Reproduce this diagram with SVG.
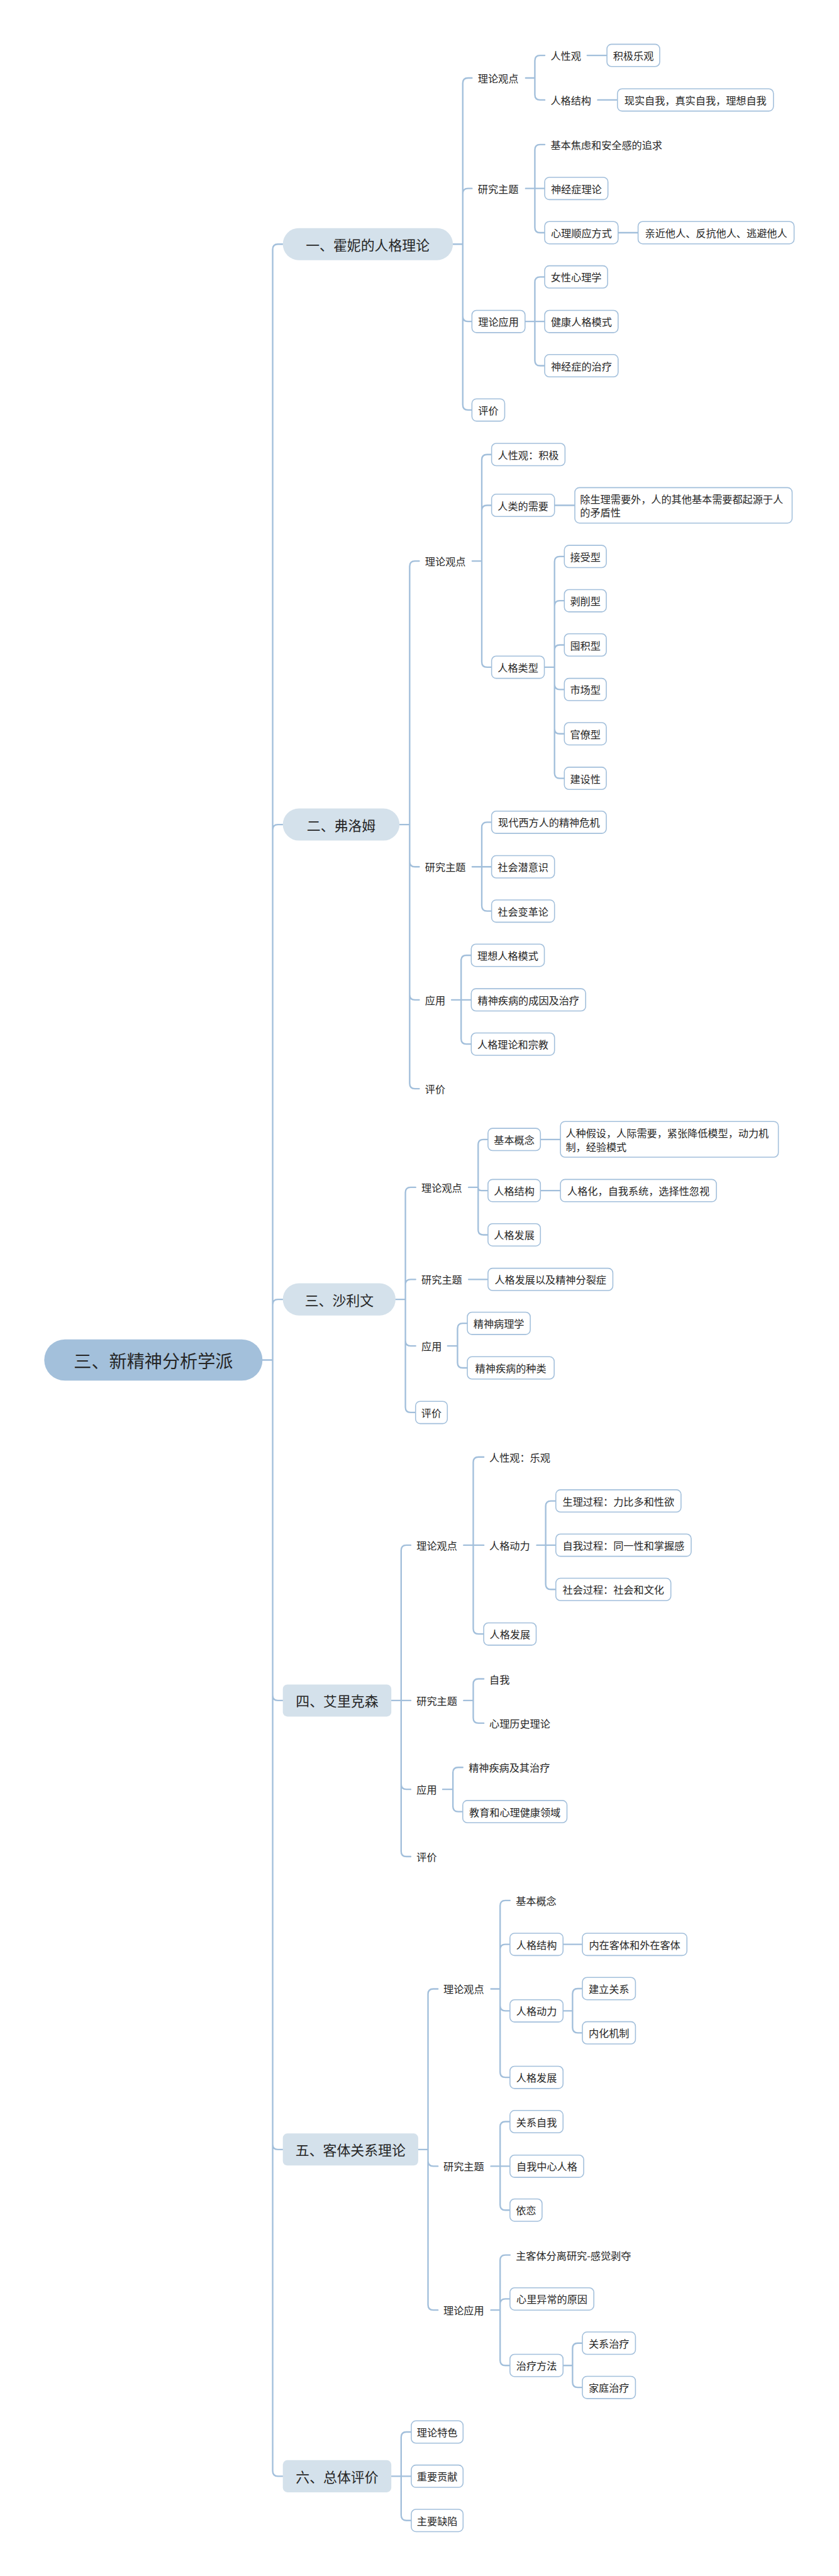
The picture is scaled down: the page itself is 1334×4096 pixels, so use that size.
<svg xmlns="http://www.w3.org/2000/svg" width="1334" height="4096" viewBox="0 0 1334 4096">
<style>
.c{fill:none;stroke:#a2bfdb;stroke-width:4.5;stroke-linecap:round;stroke-linejoin:round}
.b{fill:#fff;stroke:#a2bfdb;stroke-width:3}
.t{font-family:"Noto Sans CJK SC","Noto Sans",sans-serif;font-size:31px;fill:#262626;dominant-baseline:central}
.m{text-anchor:middle}
.l1{fill:#d4e1eb}
.l1t{font-size:42px}
.root{fill:#a3c0db}
.rt{font-size:54px}
</style>
<rect width="1334" height="4096" fill="#fff"/>
<g transform="scale(0.52109)">
<g id="connectors">
<path class="c" d="M801 4150H832V761Q832 745 848 745H863M801 4150H832V2532Q832 2516 848 2516H863M801 4150H832V3981Q832 3965 848 3965H863M801 4150H832V5173Q832 5189 848 5189H863M801 4150H832V6543Q832 6559 848 6559H863M801 4150H832V7540Q832 7556 848 7556H863"/>
<path class="c" d="M1382 745H1412V254Q1412 238 1428 238H1440M1382 745H1412V591Q1412 575 1428 575H1440M1382 745H1412V965Q1412 981 1428 981H1440M1382 745H1412V1235Q1412 1251 1428 1251H1440"/>
<path class="c" d="M1604 238H1632V185Q1632 169 1648 169H1662M1604 238H1632V289Q1632 305 1648 305H1662M1792 169H1852M1824 305H1884"/>
<path class="c" d="M1604 575H1632V457Q1632 441 1648 441H1662M1604 575H1662M1604 575H1632V694Q1632 710 1648 710H1662M1886 710H1947"/>
<path class="c" d="M1602 981H1632V861Q1632 845 1648 845H1662M1602 981H1662M1602 981H1632V1100Q1632 1116 1648 1116H1662"/>
<path class="c" d="M1219 2516H1250V1728Q1250 1712 1266 1712H1279M1219 2516H1250V2629Q1250 2645 1266 2645H1279M1219 2516H1250V3035Q1250 3051 1266 3051H1279M1219 2516H1250V3306Q1250 3322 1266 3322H1279"/>
<path class="c" d="M1441 1712H1470V1403Q1470 1387 1486 1387H1500M1441 1712H1470V1558Q1470 1542 1486 1542H1500M1441 1712H1470V2020Q1470 2036 1486 2036H1500M1692 1542H1754"/>
<path class="c" d="M1661 2036H1692V1714Q1692 1698 1708 1698H1722M1661 2036H1692V1849Q1692 1833 1708 1833H1722M1661 2036H1692V1984Q1692 1968 1708 1968H1722M1661 2036H1692V2088Q1692 2104 1708 2104H1722M1661 2036H1692V2223Q1692 2239 1708 2239H1722M1661 2036H1692V2359Q1692 2375 1708 2375H1722"/>
<path class="c" d="M1441 2645H1470V2525Q1470 2509 1486 2509H1500M1441 2645H1500M1441 2645H1470V2764Q1470 2780 1486 2780H1500"/>
<path class="c" d="M1378 3051H1407V2931Q1407 2915 1423 2915H1438M1378 3051H1438M1378 3051H1407V3170Q1407 3186 1423 3186H1438"/>
<path class="c" d="M1207 3965H1237V3639Q1237 3623 1253 3623H1268M1207 3965H1237V3920Q1237 3904 1253 3904H1268M1207 3965H1237V4091Q1237 4107 1253 4107H1268M1207 3965H1237V4294Q1237 4310 1253 4310H1268"/>
<path class="c" d="M1430 3623H1459V3493Q1459 3477 1475 3477H1489M1430 3623H1459Q1459 3633 1469 3633H1489M1430 3623H1459V3752Q1459 3768 1475 3768H1489M1649 3477H1710M1649 3633H1710M1430 3904H1489"/>
<path class="c" d="M1366 4107H1396V4054Q1396 4038 1412 4038H1426M1366 4107H1396V4158Q1396 4174 1412 4174H1426"/>
<path class="c" d="M1194 5189H1224V4731Q1224 4715 1240 4715H1253M1194 5189H1253M1194 5189H1224V5444Q1224 5460 1240 5460H1253M1194 5189H1224V5649Q1224 5665 1240 5665H1253"/>
<path class="c" d="M1415 4715H1444V4462Q1444 4446 1460 4446H1476M1415 4715H1476M1415 4715H1444V4970Q1444 4986 1460 4986H1476"/>
<path class="c" d="M1638 4715H1665V4596Q1665 4580 1681 4580H1696M1638 4715H1696M1638 4715H1665V4834Q1665 4850 1681 4850H1696"/>
<path class="c" d="M1415 5189H1444V5139Q1444 5123 1460 5123H1476M1415 5189H1444V5242Q1444 5258 1460 5258H1476"/>
<path class="c" d="M1351 5460H1382V5409Q1382 5393 1398 5393H1412M1351 5460H1382V5512Q1382 5528 1398 5528H1412"/>
<path class="c" d="M1276 6559H1306V6085Q1306 6069 1322 6069H1336M1276 6559H1306V6594Q1306 6610 1322 6610H1336M1276 6559H1306V7033Q1306 7049 1322 7049H1336"/>
<path class="c" d="M1498 6069H1526V5815Q1526 5799 1542 5799H1556M1498 6069H1526V5949Q1526 5933 1542 5933H1556M1498 6069H1526V6120Q1526 6136 1542 6136H1556M1498 6069H1526V6323Q1526 6339 1542 6339H1556M1718 5933H1777"/>
<path class="c" d="M1718 6136H1747V6084Q1747 6068 1763 6068H1777M1718 6136H1747V6187Q1747 6203 1763 6203H1777"/>
<path class="c" d="M1498 6610H1526V6490Q1526 6474 1542 6474H1556M1498 6610H1556M1498 6610H1526V6728Q1526 6744 1542 6744H1556"/>
<path class="c" d="M1498 7049H1526V6897Q1526 6881 1542 6881H1556M1498 7049H1526V7031Q1526 7015 1542 7015H1556M1498 7049H1526V7202Q1526 7218 1542 7218H1556"/>
<path class="c" d="M1718 7218H1747V7166Q1747 7150 1763 7150H1777M1718 7218H1747V7269Q1747 7285 1763 7285H1777"/>
<path class="c" d="M1194 7556H1224V7437Q1224 7421 1240 7421H1255M1194 7556H1255M1194 7556H1224V7675Q1224 7691 1240 7691H1255"/>
</g>
<g id="root"><rect class="root" x="135" y="4087" width="666" height="126" rx="63"/><text class="t m rt" x="468" y="4150">三、新精神分析学派</text></g>
<g id="n1"><rect class="l1" x="863" y="696" width="519" height="98" rx="49"/><text class="t m l1t" x="1122" y="745">一、霍妮的人格理论</text></g>
<g id="n1-1"><text class="t" x="1458" y="238">理论观点</text></g>
<g id="n1-1-1"><text class="t" x="1680" y="169">人性观</text></g>
<g id="n1-1-1-1"><rect class="b" x="1852" y="135" width="161" height="68" rx="14"/><text class="t m" x="1932.5" y="169">积极乐观</text></g>
<g id="n1-1-2"><text class="t" x="1680" y="305">人格结构</text></g>
<g id="n1-1-2-1"><rect class="b" x="1884" y="271" width="476" height="68" rx="14"/><text class="t m" x="2122" y="305">现实自我，真实自我，理想自我</text></g>
<g id="n1-2"><text class="t" x="1458" y="575">研究主题</text></g>
<g id="n1-2-1"><text class="t" x="1680" y="441">基本焦虑和安全感的追求</text></g>
<g id="n1-2-2"><rect class="b" x="1662" y="541" width="193" height="68" rx="14"/><text class="t m" x="1758.5" y="575">神经症理论</text></g>
<g id="n1-2-3"><rect class="b" x="1662" y="676" width="224" height="68" rx="14"/><text class="t m" x="1774" y="710">心理顺应方式</text></g>
<g id="n1-2-3-1"><rect class="b" x="1947" y="676" width="476" height="68" rx="14"/><text class="t m" x="2185" y="710">亲近他人、反抗他人、逃避他人</text></g>
<g id="n1-3"><rect class="b" x="1440" y="947" width="162" height="68" rx="14"/><text class="t m" x="1521" y="981">理论应用</text></g>
<g id="n1-3-1"><rect class="b" x="1662" y="811" width="192" height="68" rx="14"/><text class="t m" x="1758" y="845">女性心理学</text></g>
<g id="n1-3-2"><rect class="b" x="1662" y="947" width="224" height="68" rx="14"/><text class="t m" x="1774" y="981">健康人格模式</text></g>
<g id="n1-3-3"><rect class="b" x="1662" y="1082" width="224" height="68" rx="14"/><text class="t m" x="1774" y="1116">神经症的治疗</text></g>
<g id="n1-4"><rect class="b" x="1440" y="1217" width="100" height="68" rx="14"/><text class="t m" x="1490" y="1251">评价</text></g>
<g id="n2"><rect class="l1" x="863" y="2467" width="356" height="98" rx="49"/><text class="t m l1t" x="1041" y="2516">二、弗洛姆</text></g>
<g id="n2-1"><text class="t" x="1297" y="1712">理论观点</text></g>
<g id="n2-1-1"><rect class="b" x="1500" y="1353" width="224" height="68" rx="14"/><text class="t m" x="1612" y="1387">人性观：积极</text></g>
<g id="n2-1-2"><rect class="b" x="1500" y="1508" width="192" height="68" rx="14"/><text class="t m" x="1596" y="1542">人类的需要</text></g>
<g id="n2-1-2-1"><rect class="b" x="1754" y="1488" width="663" height="108" rx="14"/><text class="t" x="1770" y="1521">除生理需要外，人的其他基本需要都起源于人</text><text class="t" x="1770" y="1563">的矛盾性</text></g>
<g id="n2-1-3"><rect class="b" x="1500" y="2002" width="161" height="68" rx="14"/><text class="t m" x="1580.5" y="2036">人格类型</text></g>
<g id="n2-1-3-1"><rect class="b" x="1722" y="1664" width="128" height="68" rx="14"/><text class="t m" x="1786" y="1698">接受型</text></g>
<g id="n2-1-3-2"><rect class="b" x="1722" y="1799" width="128" height="68" rx="14"/><text class="t m" x="1786" y="1833">剥削型</text></g>
<g id="n2-1-3-3"><rect class="b" x="1722" y="1934" width="128" height="68" rx="14"/><text class="t m" x="1786" y="1968">囤积型</text></g>
<g id="n2-1-3-4"><rect class="b" x="1722" y="2070" width="128" height="68" rx="14"/><text class="t m" x="1786" y="2104">市场型</text></g>
<g id="n2-1-3-5"><rect class="b" x="1722" y="2205" width="128" height="68" rx="14"/><text class="t m" x="1786" y="2239">官僚型</text></g>
<g id="n2-1-3-6"><rect class="b" x="1722" y="2341" width="128" height="68" rx="14"/><text class="t m" x="1786" y="2375">建设性</text></g>
<g id="n2-2"><text class="t" x="1297" y="2645">研究主题</text></g>
<g id="n2-2-1"><rect class="b" x="1500" y="2475" width="350" height="68" rx="14"/><text class="t m" x="1675" y="2509">现代西方人的精神危机</text></g>
<g id="n2-2-2"><rect class="b" x="1500" y="2611" width="192" height="68" rx="14"/><text class="t m" x="1596" y="2645">社会潜意识</text></g>
<g id="n2-2-3"><rect class="b" x="1500" y="2746" width="192" height="68" rx="14"/><text class="t m" x="1596" y="2780">社会变革论</text></g>
<g id="n2-3"><text class="t" x="1297" y="3051">应用</text></g>
<g id="n2-3-1"><rect class="b" x="1438" y="2881" width="223" height="68" rx="14"/><text class="t m" x="1549.5" y="2915">理想人格模式</text></g>
<g id="n2-3-2"><rect class="b" x="1438" y="3017" width="349" height="68" rx="14"/><text class="t m" x="1612.5" y="3051">精神疾病的成因及治疗</text></g>
<g id="n2-3-3"><rect class="b" x="1438" y="3152" width="254" height="68" rx="14"/><text class="t m" x="1565" y="3186">人格理论和宗教</text></g>
<g id="n2-4"><text class="t" x="1297" y="3322">评价</text></g>
<g id="n3"><rect class="l1" x="863" y="3916" width="344" height="98" rx="49"/><text class="t m l1t" x="1035" y="3965">三、沙利文</text></g>
<g id="n3-1"><text class="t" x="1286" y="3623">理论观点</text></g>
<g id="n3-1-1"><rect class="b" x="1489" y="3443" width="160" height="68" rx="14"/><text class="t m" x="1569" y="3477">基本概念</text></g>
<g id="n3-1-1-1"><rect class="b" x="1710" y="3422" width="665" height="109" rx="14"/><text class="t" x="1726" y="3456">人种假设，人际需要，紧张降低模型，动力机</text><text class="t" x="1726" y="3498">制，经验模式</text></g>
<g id="n3-1-2"><rect class="b" x="1489" y="3599" width="160" height="68" rx="14"/><text class="t m" x="1569" y="3633">人格结构</text></g>
<g id="n3-1-2-1"><rect class="b" x="1710" y="3599" width="476" height="68" rx="14"/><text class="t m" x="1948" y="3633">人格化，自我系统，选择性忽视</text></g>
<g id="n3-1-3"><rect class="b" x="1489" y="3734" width="160" height="68" rx="14"/><text class="t m" x="1569" y="3768">人格发展</text></g>
<g id="n3-2"><text class="t" x="1286" y="3904">研究主题</text></g>
<g id="n3-2-1"><rect class="b" x="1489" y="3870" width="381" height="68" rx="14"/><text class="t m" x="1679.5" y="3904">人格发展以及精神分裂症</text></g>
<g id="n3-3"><text class="t" x="1286" y="4107">应用</text></g>
<g id="n3-3-1"><rect class="b" x="1426" y="4004" width="192" height="68" rx="14"/><text class="t m" x="1522" y="4038">精神病理学</text></g>
<g id="n3-3-2"><rect class="b" x="1426" y="4140" width="265" height="68" rx="14"/><text class="t m" x="1558.5" y="4174">精神疾病的种类</text></g>
<g id="n3-4"><rect class="b" x="1268" y="4276" width="97" height="68" rx="14"/><text class="t m" x="1316.5" y="4310">评价</text></g>
<g id="n4"><rect class="l1" x="863" y="5140" width="331" height="98" rx="14"/><text class="t m l1t" x="1028.5" y="5189">四、艾里克森</text></g>
<g id="n4-1"><text class="t" x="1271" y="4715">理论观点</text></g>
<g id="n4-1-1"><text class="t" x="1493" y="4446">人性观：乐观</text></g>
<g id="n4-1-2"><text class="t" x="1493" y="4715">人格动力</text></g>
<g id="n4-1-2-1"><rect class="b" x="1696" y="4546" width="382" height="68" rx="14"/><text class="t m" x="1887" y="4580">生理过程：力比多和性欲</text></g>
<g id="n4-1-2-2"><rect class="b" x="1696" y="4681" width="413" height="68" rx="14"/><text class="t m" x="1902.5" y="4715">自我过程：同一性和掌握感</text></g>
<g id="n4-1-2-3"><rect class="b" x="1696" y="4816" width="351" height="68" rx="14"/><text class="t m" x="1871.5" y="4850">社会过程：社会和文化</text></g>
<g id="n4-1-3"><rect class="b" x="1476" y="4952" width="160" height="68" rx="14"/><text class="t m" x="1556" y="4986">人格发展</text></g>
<g id="n4-2"><text class="t" x="1271" y="5189">研究主题</text></g>
<g id="n4-2-1"><text class="t" x="1493" y="5123">自我</text></g>
<g id="n4-2-2"><text class="t" x="1493" y="5258">心理历史理论</text></g>
<g id="n4-3"><text class="t" x="1271" y="5460">应用</text></g>
<g id="n4-3-1"><text class="t" x="1430" y="5393">精神疾病及其治疗</text></g>
<g id="n4-3-2"><rect class="b" x="1412" y="5494" width="318" height="68" rx="14"/><text class="t m" x="1571" y="5528">教育和心理健康领域</text></g>
<g id="n4-4"><text class="t" x="1271" y="5665">评价</text></g>
<g id="n5"><rect class="l1" x="863" y="6510" width="413" height="98" rx="14"/><text class="t m l1t" x="1069.5" y="6559">五、客体关系理论</text></g>
<g id="n5-1"><text class="t" x="1353" y="6069">理论观点</text></g>
<g id="n5-1-1"><text class="t" x="1574" y="5799">基本概念</text></g>
<g id="n5-1-2"><rect class="b" x="1556" y="5899" width="162" height="68" rx="14"/><text class="t m" x="1637" y="5933">人格结构</text></g>
<g id="n5-1-2-1"><rect class="b" x="1777" y="5899" width="319" height="68" rx="14"/><text class="t m" x="1936.5" y="5933">内在客体和外在客体</text></g>
<g id="n5-1-3"><rect class="b" x="1556" y="6102" width="162" height="68" rx="14"/><text class="t m" x="1637" y="6136">人格动力</text></g>
<g id="n5-1-3-1"><rect class="b" x="1777" y="6034" width="162" height="68" rx="14"/><text class="t m" x="1858" y="6068">建立关系</text></g>
<g id="n5-1-3-2"><rect class="b" x="1777" y="6169" width="162" height="68" rx="14"/><text class="t m" x="1858" y="6203">内化机制</text></g>
<g id="n5-1-4"><rect class="b" x="1556" y="6305" width="162" height="68" rx="14"/><text class="t m" x="1637" y="6339">人格发展</text></g>
<g id="n5-2"><text class="t" x="1353" y="6610">研究主题</text></g>
<g id="n5-2-1"><rect class="b" x="1556" y="6440" width="162" height="68" rx="14"/><text class="t m" x="1637" y="6474">关系自我</text></g>
<g id="n5-2-2"><rect class="b" x="1556" y="6576" width="225" height="68" rx="14"/><text class="t m" x="1668.5" y="6610">自我中心人格</text></g>
<g id="n5-2-3"><rect class="b" x="1556" y="6710" width="98" height="68" rx="14"/><text class="t m" x="1605" y="6744">依恋</text></g>
<g id="n5-3"><text class="t" x="1353" y="7049">理论应用</text></g>
<g id="n5-3-1"><text class="t" x="1574" y="6881">主客体分离研究-感觉剥夺</text></g>
<g id="n5-3-2"><rect class="b" x="1556" y="6981" width="256" height="68" rx="14"/><text class="t m" x="1684" y="7015">心里异常的原因</text></g>
<g id="n5-3-3"><rect class="b" x="1556" y="7184" width="162" height="68" rx="14"/><text class="t m" x="1637" y="7218">治疗方法</text></g>
<g id="n5-3-3-1"><rect class="b" x="1777" y="7116" width="162" height="68" rx="14"/><text class="t m" x="1858" y="7150">关系治疗</text></g>
<g id="n5-3-3-2"><rect class="b" x="1777" y="7251" width="162" height="68" rx="14"/><text class="t m" x="1858" y="7285">家庭治疗</text></g>
<g id="n6"><rect class="l1" x="863" y="7507" width="331" height="98" rx="14"/><text class="t m l1t" x="1028.5" y="7556">六、总体评价</text></g>
<g id="n6-1"><rect class="b" x="1255" y="7387" width="158" height="68" rx="14"/><text class="t m" x="1334" y="7421">理论特色</text></g>
<g id="n6-2"><rect class="b" x="1255" y="7522" width="158" height="68" rx="14"/><text class="t m" x="1334" y="7556">重要贡献</text></g>
<g id="n6-3"><rect class="b" x="1255" y="7657" width="158" height="68" rx="14"/><text class="t m" x="1334" y="7691">主要缺陷</text></g>
</g>
</svg>
